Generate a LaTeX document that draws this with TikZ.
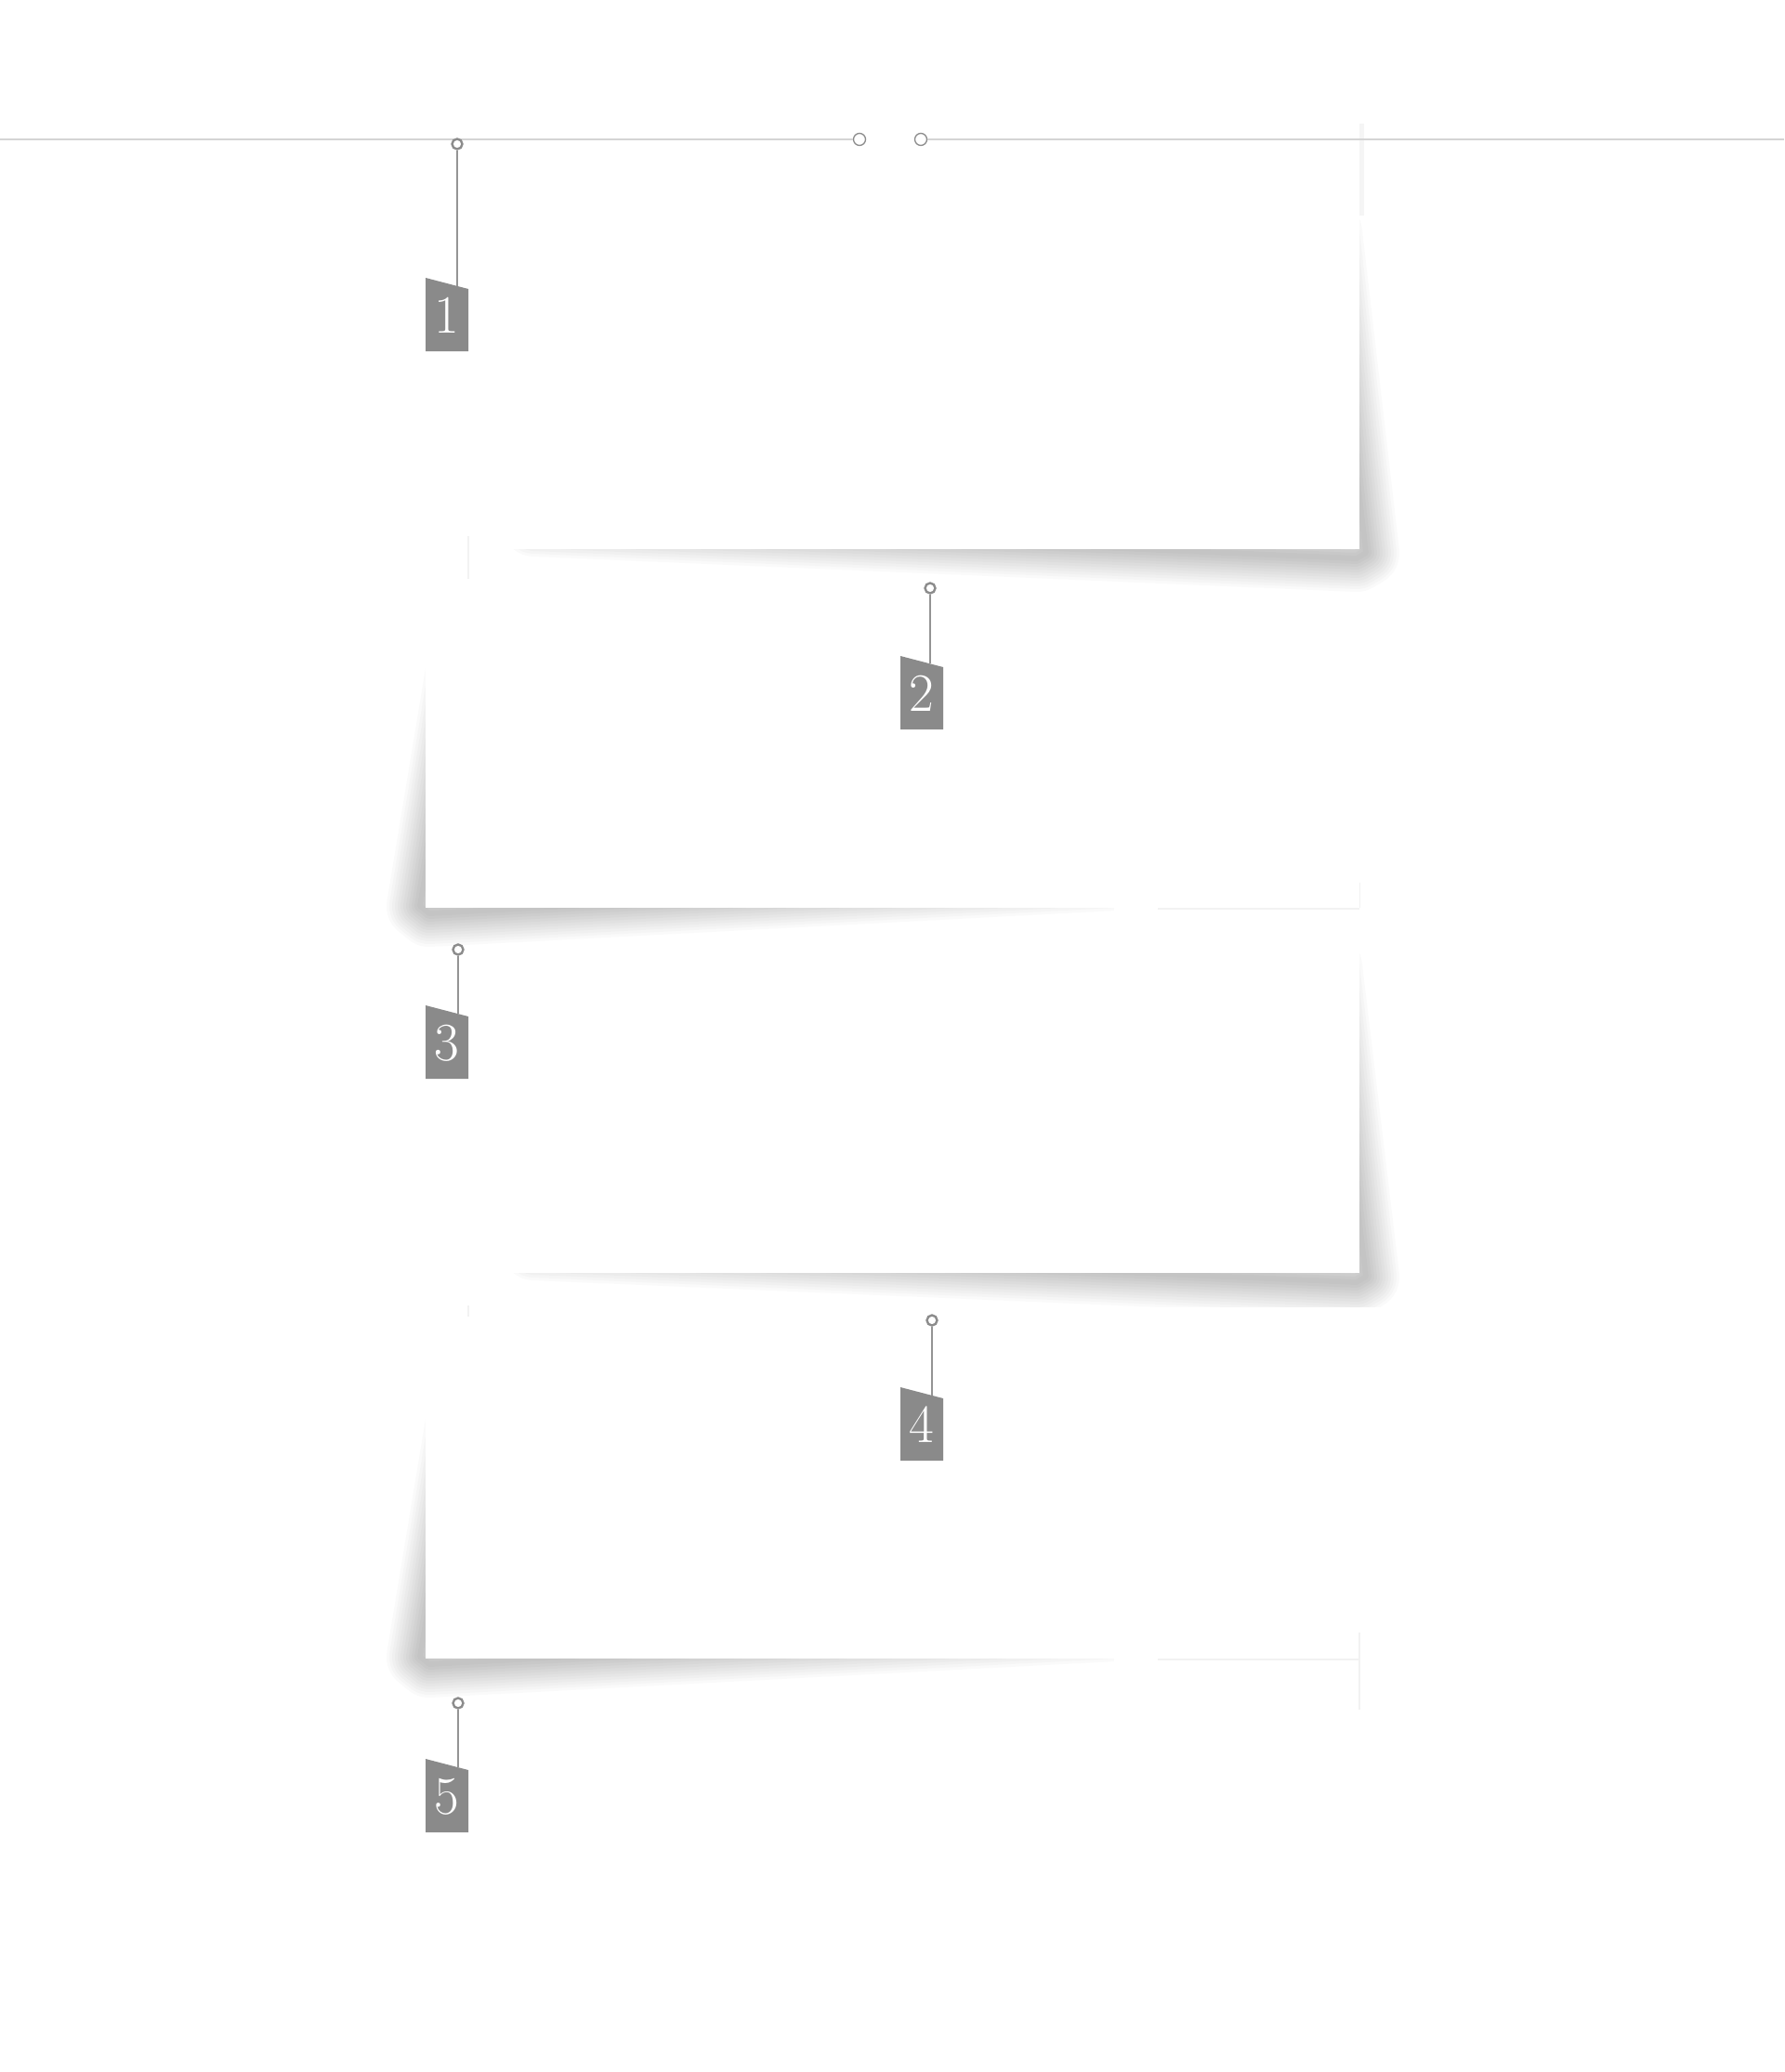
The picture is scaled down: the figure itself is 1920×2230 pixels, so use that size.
\documentclass[tikz,border=0pt]{standalone}
\usepackage{fontspec}
\newcommand{\softshadow}[1]{%
  \foreach \w in {6,12,...,72}{%
    \path[draw=black, opacity=0.02, line width=\w pt, line join=round, line cap=round] #1;}}
\newcommand{\mytag}[6]{%
  \node[hookring] (r#1) at (#4,#5) {};
  \path[tagfill] (#2,#3) -- ++(46,12) -- ++(0,67) -- ++(-46,0) -- cycle;
  \coordinate (k#1) at (#4, {#3 + 12*(#4-#2)/46});
  \draw[hanger] (r#1.south) -- (k#1);
  \node[digit] (d#1) at ({#2+23}, {#3+59}) {#6};
}
\begin{document}
\begin{tikzpicture}[x=1pt,y=-1pt,
  topline/.style={draw=black!17, line width=1.4pt},
  ring/.style={circle, draw=black!45, line width=1.3pt, fill=white, minimum size=13pt, inner sep=0pt},
  hookring/.style={circle, draw=black!45, line width=2.4pt, fill=white, minimum size=11pt, inner sep=0pt},
  hanger/.style={draw=black!42, line width=1.3pt},
  tagfill/.style={fill=black!46},
  digit/.style={text=white, font=\fontsize{58pt}{58pt}\selectfont, inner sep=0pt, anchor=base},
  card/.style={fill=white, draw=none},
  faint/.style={draw=black!5, line width=2pt}]
\fill[white] (0,0) rectangle (1920,2230);
\useasboundingbox (0,0) rectangle (1920,2230);

% card 4
\softshadow{(494,1530) -- (452,1783) -- (462,1791) -- (1200,1752)}
\fill[card] (458,1400) rectangle (1463,1785);
\fill[white] (1199,1785) rectangle (1246,1800);
\draw[faint] (1246,1786) -- (1463,1786);
\draw[faint] (1463,1757) -- (1463,1840);

% card 3
\softshadow{(1430,1040) -- (1470,1374) -- (1460,1380) -- (575,1342)}
\fill[card] (504,977) rectangle (1463,1370);
\fill[white] (1114,1407) rectangle (1530,1445);
\draw[faint] (504,1405) -- (504,1417);
\draw[faint] (1463,950) -- (1463,977);

% card 2
\softshadow{(494,722) -- (452,975) -- (462,983) -- (1200,944)}
\fill[card] (458,591) rectangle (1463,977);
\fill[white] (1199,977) rectangle (1246,992);
\draw[faint] (1246,978) -- (1463,978);

% card 1
\softshadow{(1430,250) -- (1470,595) -- (1460,601) -- (575,563)}
\fill[card] (504,150) rectangle (1463,591);
\draw[faint] (504,577) -- (504,623);
\fill[black!4] (1463,133) rectangle (1468,232);

% top line with rings
\node[ring] (t1) at (925,150) {};
\node[ring] (t2) at (991,150) {};
\coordinate (lend) at (0,150);
\coordinate (rend) at (1920,150);
\draw[topline] (lend) -- (t1.west);
\draw[topline] (t2.east) -- (rend);

% tags
\mytag{1}{458}{299}{492}{155}{1}
\mytag{2}{969}{706}{1001}{633}{2}
\mytag{3}{458}{1082}{493}{1022}{3}
\mytag{4}{969}{1493}{1003}{1421}{4}
\mytag{5}{458}{1893}{493}{1833}{5}
\end{tikzpicture}
\end{document}
